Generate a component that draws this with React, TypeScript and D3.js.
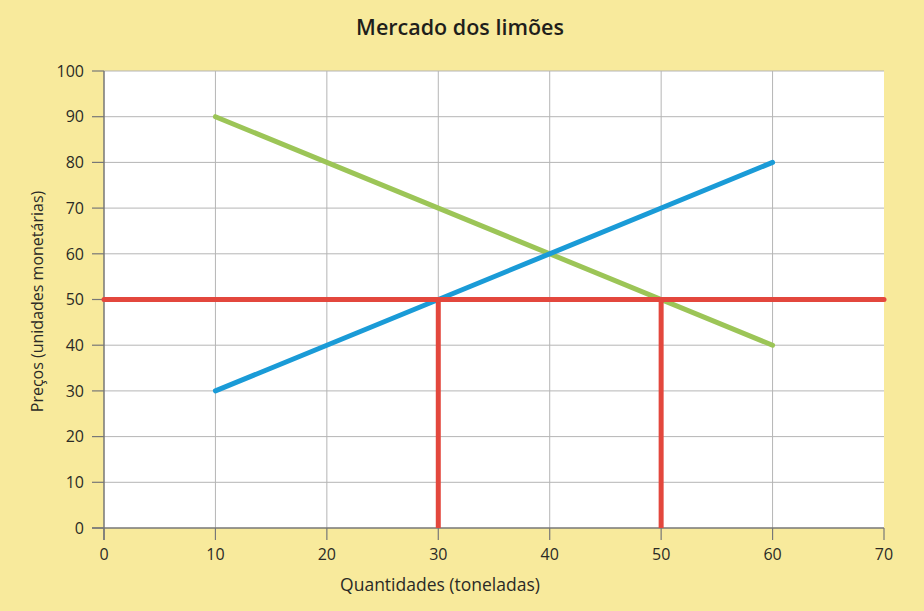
import React from "react";
import * as d3 from "d3";

const title = "Mercado dos limões";
const xLabel = "Quantidades (toneladas)";
const yLabel = "Preços (unidades monetárias)";
const xTicks = [0, 10, 20, 30, 40, 50, 60, 70];
const yTicks = [0, 10, 20, 30, 40, 50, 60, 70, 80, 90, 100];
const demand = [
  { q: 10, p: 90 },
  { q: 60, p: 40 },
];
const supply = [
  { q: 10, p: 30 },
  { q: 60, p: 80 },
];
const priceLevel = 50;
const quantityMarks = [30, 50];

const W = 924;
const H = 611;
const M = { left: 104, right: 40, top: 71, bottom: 83 };

export default function App() {
  const x = d3.scaleLinear().domain([0, 70]).range([M.left, W - M.right]);
  const y = d3.scaleLinear().domain([0, 100]).range([H - M.bottom, M.top]);
  const line = d3
    .line<{ q: number; p: number }>()
    .x((d) => x(d.q))
    .y((d) => y(d.p));
  const font = "'Open Sans', Lato, sans-serif";
  const textColor = "#2b2a26";
  return (
    <div style={{ position: "absolute", left: 0, top: 0 }}>
      <svg width={W} height={H} style={{ display: "block" }}>
        <rect width={W} height={H} fill="#F8EA9C" />
        <rect x={x(0)} y={y(100)} width={x(70) - x(0)} height={y(0) - y(100)} fill="#fff" />
        {xTicks.slice(1, -1).map((t) => (
          <line key={"gx" + t} x1={x(t)} x2={x(t)} y1={y(0)} y2={y(100)} stroke="#b5b5b5" strokeWidth={1} />
        ))}
        {yTicks.slice(1).map((t) => (
          <line key={"gy" + t} x1={x(0)} x2={x(70)} y1={y(t)} y2={y(t)} stroke="#b5b5b5" strokeWidth={1} />
        ))}
        {/* axes */}
        <line x1={x(0)} x2={x(0)} y1={y(100)} y2={y(0) + 12} stroke="#777" strokeWidth={1.5} />
        <line x1={x(0) - 12} x2={x(70)} y1={y(0)} y2={y(0)} stroke="#777" strokeWidth={1.5} />
        {yTicks.map((t) => (
          <g key={"ty" + t}>
            <line x1={x(0) - 12} x2={x(0)} y1={y(t)} y2={y(t)} stroke="#777" strokeWidth={1.2} />
            <text x={x(0) - 20} y={y(t)} dy="0.36em" textAnchor="end" fontFamily={font} fontSize={16} fill={textColor}>
              {t}
            </text>
          </g>
        ))}
        {xTicks.map((t) => (
          <g key={"tx" + t}>
            <line x1={x(t)} x2={x(t)} y1={y(0)} y2={y(0) + 12} stroke="#777" strokeWidth={1.2} />
            <text x={x(t)} y={y(0) + 32} textAnchor="middle" fontFamily={font} fontSize={16} fill={textColor}>
              {t}
            </text>
          </g>
        ))}
        {/* series */}
        <path d={line(demand) || ""} fill="none" stroke="#9CC557" strokeWidth={5} strokeLinecap="round" />
        <path d={line(supply) || ""} fill="none" stroke="#1A9BD7" strokeWidth={5} strokeLinecap="round" />
        <line x1={x(0)} x2={x(70)} y1={y(priceLevel)} y2={y(priceLevel)} stroke="#E3473D" strokeWidth={5} strokeLinecap="round" />
        {quantityMarks.map((q) => (
          <line key={"q" + q} x1={x(q)} x2={x(q)} y1={y(priceLevel)} y2={y(0)} stroke="#E3473D" strokeWidth={5} />
        ))}
        <text x={460} y={35} textAnchor="middle" fontFamily={font} fontWeight={600} fontSize={21.5} fill="#1f1e1b">
          {title}
        </text>
        <text x={440} y={591} textAnchor="middle" fontFamily={font} fontSize={17.5} fill={textColor}>
          {xLabel}
        </text>
        <text
          transform={`translate(43, ${(y(0) + y(100)) / 2 + 2}) rotate(-90)`}
          textAnchor="middle"
          fontFamily={font}
          fontSize={16}
          fill={textColor}
        >
          {yLabel}
        </text>
      </svg>
    </div>
  );
}
